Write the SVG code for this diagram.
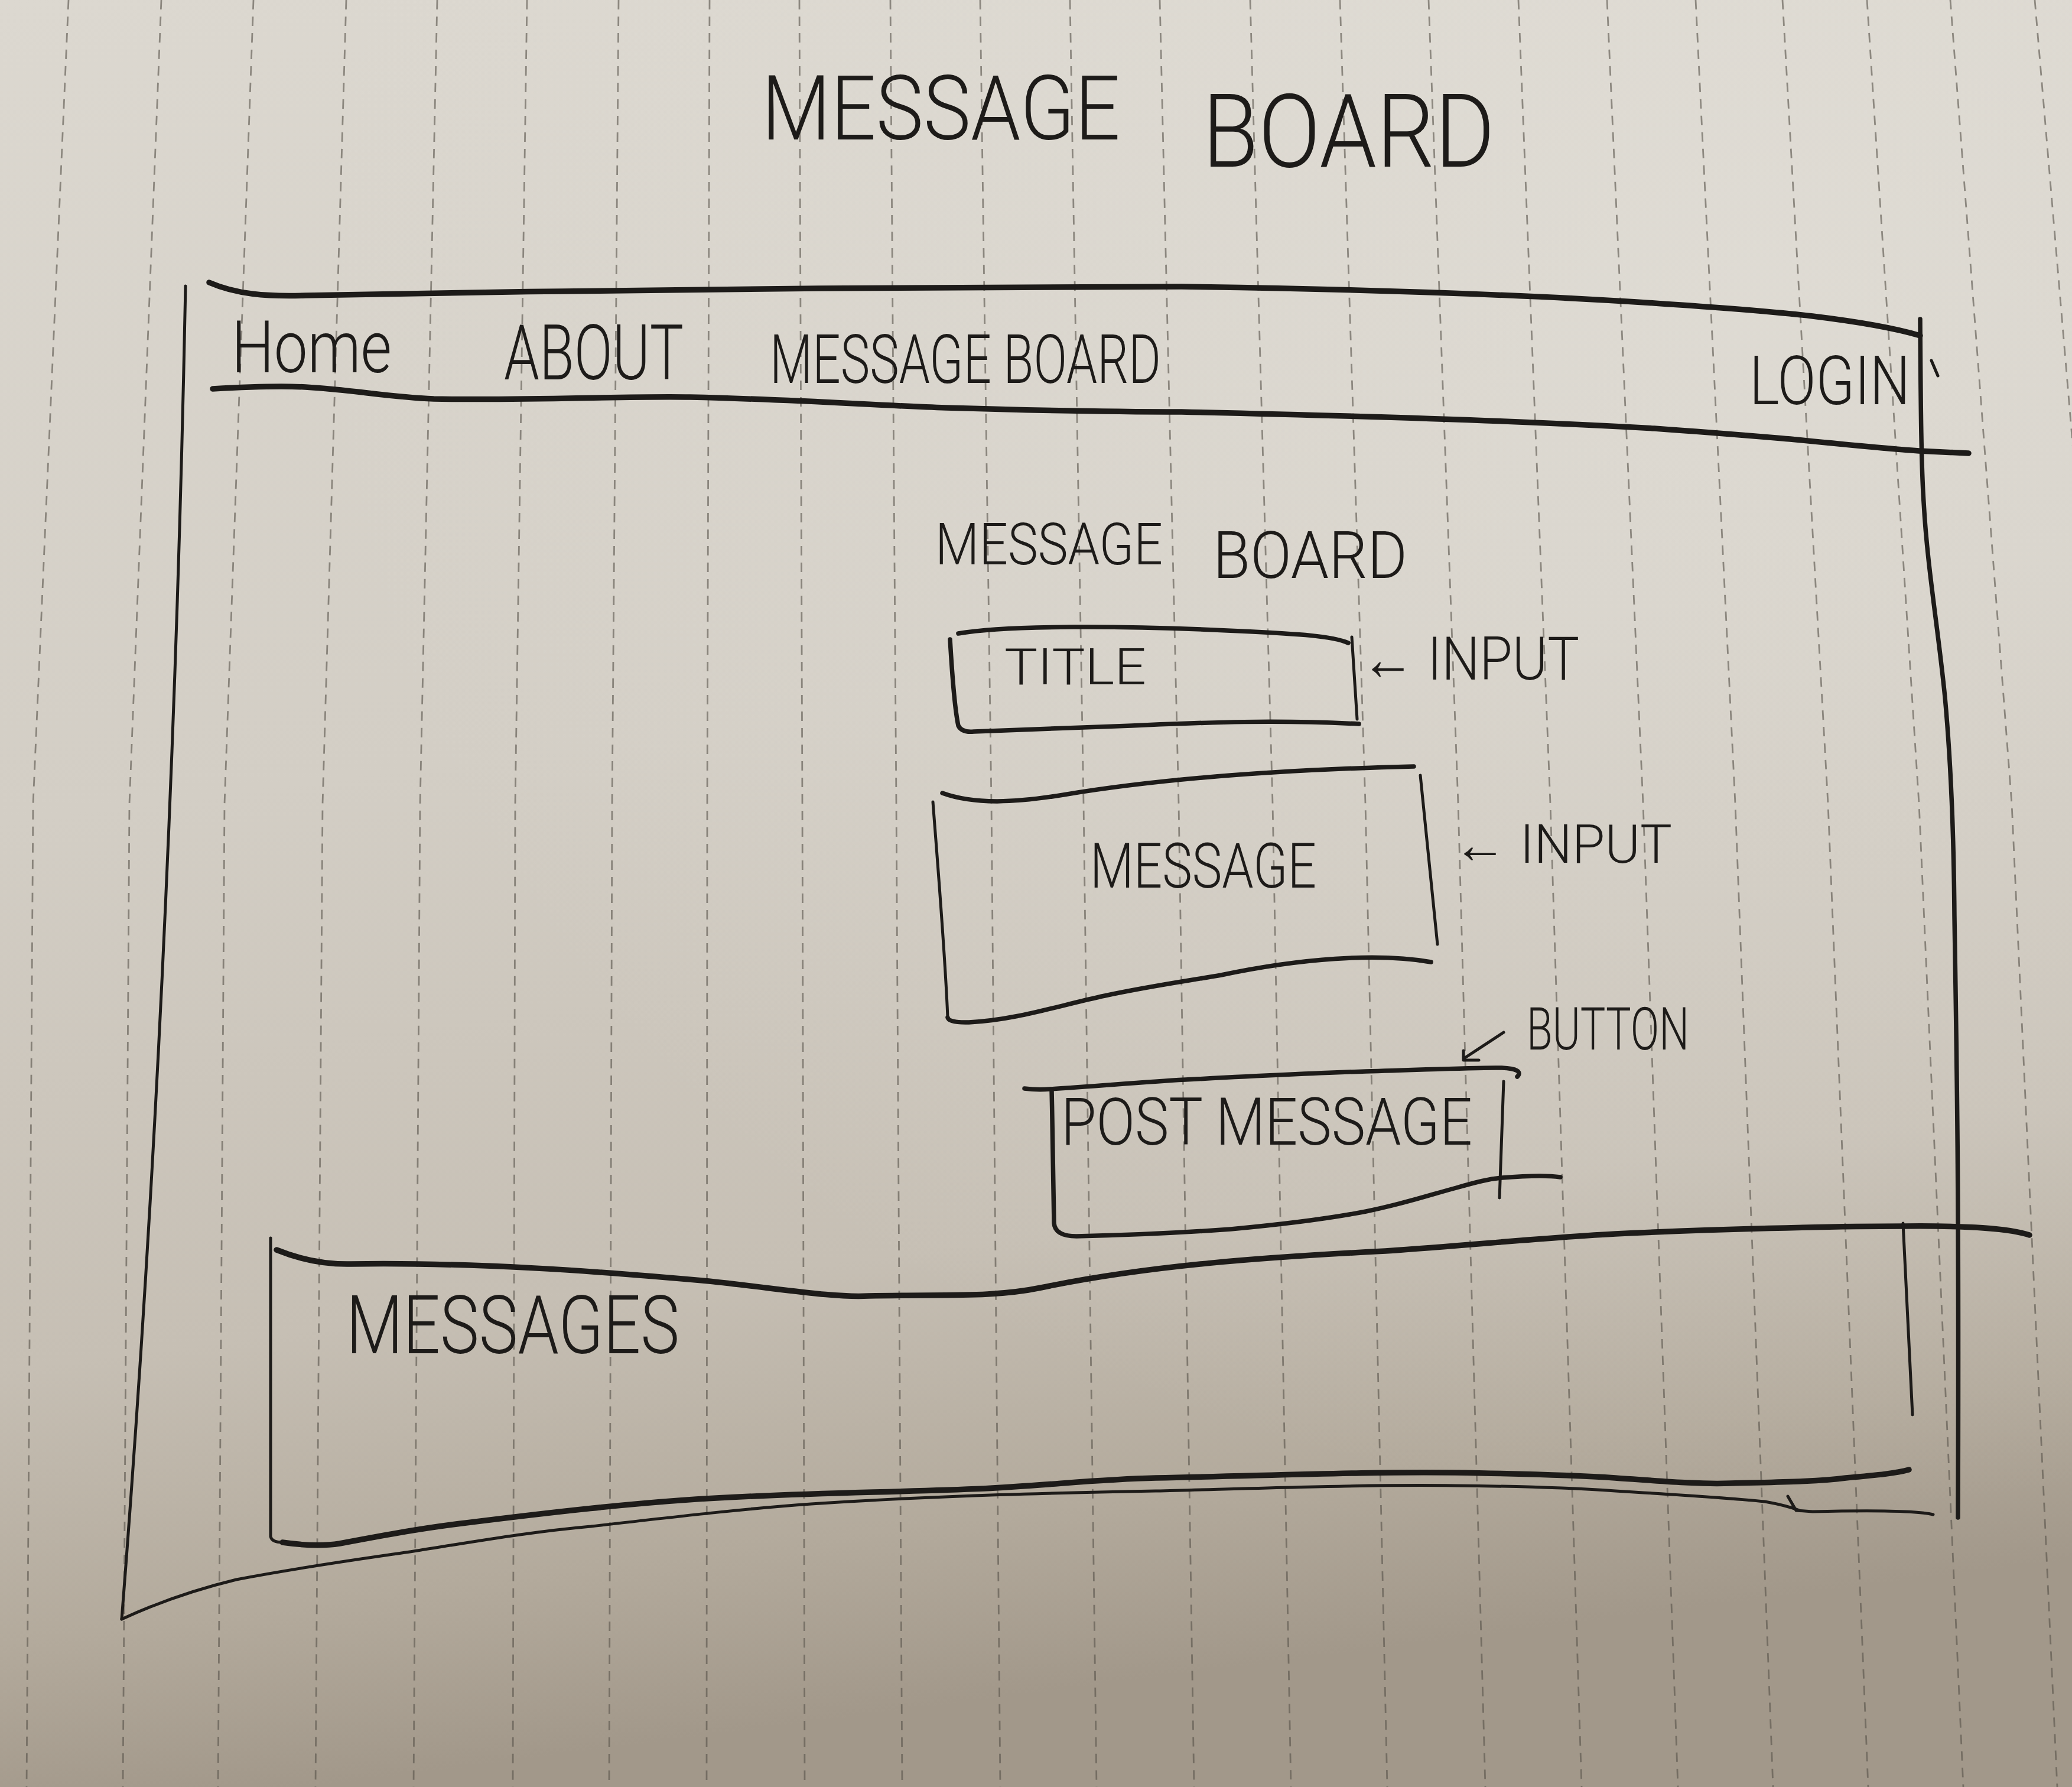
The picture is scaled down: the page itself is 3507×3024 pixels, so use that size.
<svg xmlns="http://www.w3.org/2000/svg" width="3507" height="3024" viewBox="0 0 3507 3024">
<defs>
<linearGradient id="paperGrad" x1="0" y1="0" x2="0.15" y2="1">
<stop offset="0" stop-color="#dcd8d0"/>
<stop offset="0.45" stop-color="#d3cec5"/>
<stop offset="0.75" stop-color="#c6bfb4"/>
<stop offset="0.9" stop-color="#b3aa9c"/>
<stop offset="1" stop-color="#a2988a"/>
</linearGradient>
<radialGradient id="glow" cx="0.85" cy="0.15" r="0.7">
<stop offset="0" stop-color="#e4e1da" stop-opacity="0.6"/>
<stop offset="1" stop-color="#e4e1da" stop-opacity="0"/>
</radialGradient>
</defs>
<style>
.dash{fill:none;stroke:#57514a;stroke-opacity:0.6;stroke-width:2.8;stroke-dasharray:16 12}
.pen{fill:none;stroke:#1d1b19;stroke-linecap:round;stroke-linejoin:round}
.thin{stroke-width:5}
.med{stroke-width:7.5}
.thick{stroke-width:9.5}
.hand{font-family:Roboto,"Liberation Sans","DejaVu Sans",sans-serif;font-weight:300;fill:#1d1b19}
</style>
<rect width="3507" height="3024" fill="url(#paperGrad)"/>
<rect width="3507" height="3024" fill="url(#glow)"/>
<g id="paper-lines">
<polyline class="dash" points="116,0 56,1360 45,3024"/>
<polyline class="dash" points="273,0 219,1360 208,3024"/>
<polyline class="dash" points="429,0 380,1360 369,3024"/>
<polyline class="dash" points="586,0 546,1360 534,3024"/>
<polyline class="dash" points="740,0 711,1360 700,3024"/>
<polyline class="dash" points="892,0 872,1360 868,3024"/>
<polyline class="dash" points="1047,0 1036,1360 1031,3024"/>
<polyline class="dash" points="1201,0 1197,1360 1196,3024"/>
<polyline class="dash" points="1353,0 1358,1360 1362,3024"/>
<polyline class="dash" points="1507,0 1517,1360 1527,3024"/>
<polyline class="dash" points="1659,0 1678,1360 1693,3024"/>
<polyline class="dash" points="1811,0 1834,1360 1856,3024"/>
<polyline class="dash" points="1963,0 1995,1360 2021,3024"/>
<polyline class="dash" points="2116,0 2154,1360 2185,3024"/>
<polyline class="dash" points="2268,0 2311,1360 2348,3024"/>
<polyline class="dash" points="2418,0 2468,1360 2514,3024"/>
<polyline class="dash" points="2570,0 2624,1360 2677,3024"/>
<polyline class="dash" points="2720,0 2781,1360 2840,3024"/>
<polyline class="dash" points="2870,0 2937,1360 3001,3024"/>
<polyline class="dash" points="3017,0 3094,1360 3162,3024"/>
<polyline class="dash" points="3160,0 3248,1360 3323,3024"/>
<polyline class="dash" points="3301,0 3405,1360 3482,3024"/>
<polyline class="dash" points="3444,0 3560,1360 3640,3024"/>
</g>
<g id="page-title">
<text class="hand" x="1289" y="236" font-size="152" textLength="607" lengthAdjust="spacingAndGlyphs">MESSAGE</text>
<text class="hand" x="2035" y="282" font-size="172" textLength="495" lengthAdjust="spacingAndGlyphs">BOARD</text>
</g>
<g id="connectors">
<path class="pen thin" d="M314,484 C302,1100 272,1900 206,2740"/>
<path class="pen thin" d="M206,2740 C260,2715 330,2690 400,2673 C520,2650 620,2637 700,2625 C820,2606 900,2592 1000,2583 C1150,2566 1260,2553 1373,2545 C1600,2530 1800,2526 1956,2523 C2150,2518 2320,2512 2462,2514 C2580,2515 2660,2518 2734,2523 C2850,2530 2940,2536 2987,2541 C3010,2545 3030,2550 3046,2556"/>
<path class="pen thin" d="M3026,2532 L3040,2556 L3068,2558 C3150,2556 3240,2555 3272,2563"/>
<path class="pen med" d="M3250,540 C3251,700 3252,790 3256,850 C3262,960 3280,1060 3292,1180 C3303,1300 3307,1420 3308,1550 C3312,1800 3316,2000 3314,2568"/>
</g>
<g id="navbar">
<path class="pen thick" d="M354,478 C400,498 450,502 517,500 C700,496 820,494 951,493 C1150,490 1300,489 1385,488 C1650,485 1850,484 2000,485 C2350,490 2600,500 2800,513 C2920,521 3000,527 3068,535 C3150,545 3210,556 3250,568"/>
<path class="pen thick" d="M360,658 C430,654 480,653 517,655 C600,660 660,672 734,675 C900,678 1050,670 1168,672 C1350,676 1480,686 1601,690 C1800,696 1900,697 2000,697 C2400,706 2650,716 2800,725 C2900,732 2970,738 3030,743 C3120,752 3200,760 3248,763 C3290,765 3315,766 3332,767"/>
<text class="hand" x="392" y="630" font-size="122" textLength="271" lengthAdjust="spacingAndGlyphs">Home</text>
<text class="hand" x="853" y="642" font-size="130" textLength="304" lengthAdjust="spacingAndGlyphs">ABOUT</text>
<text class="hand" x="1303" y="648" font-size="115" textLength="662" lengthAdjust="spacingAndGlyphs">MESSAGE BOARD</text>
<text class="hand" x="2961" y="684" font-size="115" textLength="272" lengthAdjust="spacingAndGlyphs">LOGIN</text>
<path class="pen thin" d="M3269,610 L3280,636"/>
</g>
<g id="heading">
<text class="hand" x="1583" y="955" font-size="98" textLength="385" lengthAdjust="spacingAndGlyphs">MESSAGE</text>
<text class="hand" x="2053" y="978" font-size="112" textLength="329" lengthAdjust="spacingAndGlyphs">BOARD</text>
</g>
<g id="title-input">
<path class="pen med" d="M1622,1072 C1700,1058 1900,1058 2100,1068 C2200,1073 2255,1076 2282,1088"/>
<path class="pen med" d="M1608,1082 C1612,1150 1616,1200 1622,1228 Q1628,1240 1648,1238 C1750,1234 1830,1231 1915,1228 C2050,1222 2160,1218 2300,1225"/>
<path class="pen thin" d="M2288,1078 L2297,1217"/>
<text class="hand" x="1700" y="1158" font-size="86" textLength="240" lengthAdjust="spacingAndGlyphs">TITLE</text>
<text class="hand" x="2304" y="1150" font-size="102" textLength="369" lengthAdjust="spacingAndGlyphs">← INPUT</text>
</g>
<g id="message-input">
<path class="pen med" d="M1595,1342 C1650,1362 1720,1358 1800,1345 C1950,1320 2150,1303 2393,1297"/>
<path class="pen thin" d="M1579,1357 C1590,1500 1600,1620 1604,1722"/>
<path class="pen med" d="M1604,1722 Q1606,1731 1640,1730 C1720,1726 1790,1702 1870,1685 C1950,1668 2010,1660 2067,1650 C2200,1622 2330,1612 2422,1628"/>
<path class="pen thin" d="M2404,1312 L2433,1598"/>
<text class="hand" x="1845" y="1502" font-size="106" textLength="383" lengthAdjust="spacingAndGlyphs">MESSAGE</text>
<text class="hand" x="2460" y="1460" font-size="90" textLength="370" lengthAdjust="spacingAndGlyphs">← INPUT</text>
</g>
<g id="post-button">
<path class="pen med" d="M1734,1842 C1750,1844 1765,1844 1777,1843 C1860,1838 1930,1831 2006,1827 C2120,1821 2220,1816 2312,1813 C2420,1810 2500,1806 2542,1807 C2568,1808 2576,1814 2568,1822"/>
<path class="pen med" d="M1780,1845 C1782,1930 1783,2020 1784,2070 Q1786,2092 1822,2092 C1920,2090 2000,2086 2083,2080 C2170,2072 2240,2064 2312,2050 C2380,2036 2420,2022 2465,2010 C2500,2000 2520,1995 2542,1993 C2580,1990 2620,1989 2641,1992"/>
<path class="pen thin" d="M2545,1830 L2538,2027"/>
<text class="hand" x="1796" y="1937" font-size="112" textLength="696" lengthAdjust="spacingAndGlyphs">POST MESSAGE</text>
<path class="pen thin" d="M2545,1747 L2478,1791"/>
<path class="pen thin" d="M2477,1778 L2477,1794 L2503,1794"/>
<text class="hand" x="2584" y="1776" font-size="100" textLength="275" lengthAdjust="spacingAndGlyphs">BUTTON</text>
</g>
<g id="messages-list">
<path class="pen thick" d="M468,2115 C510,2132 550,2140 594,2139 C800,2136 1000,2150 1200,2168 C1330,2182 1410,2196 1470,2193 C1600,2190 1680,2196 1762,2179 C1950,2140 2150,2127 2345,2117 C2500,2106 2620,2094 2734,2088 C2900,2080 3100,2075 3221,2075 C3330,2074 3400,2078 3435,2090"/>
<path class="pen thin" d="M458,2095 L458,2600 Q460,2610 478,2610"/>
<path class="pen thick" d="M478,2610 C520,2616 550,2616 575,2612 C660,2596 720,2585 789,2577 C950,2557 1060,2545 1178,2537 C1350,2526 1500,2526 1665,2519 C1780,2513 1860,2503 1956,2501 C2150,2497 2320,2490 2462,2492 C2580,2494 2660,2496 2734,2501 C2820,2507 2880,2512 2929,2510 C3000,2508 3070,2508 3124,2501 C3180,2496 3210,2493 3231,2487"/>
<path class="pen thin" d="M3221,2070 L3237,2394"/>
<text class="hand" x="586" y="2290" font-size="138" textLength="564" lengthAdjust="spacingAndGlyphs">MESSAGES</text>
</g>
</svg>
